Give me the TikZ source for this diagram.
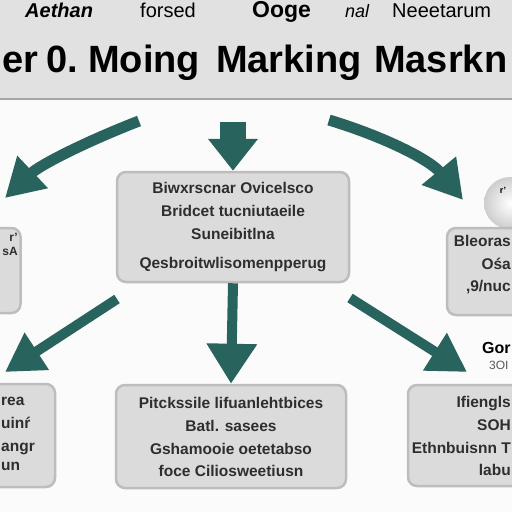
\documentclass[tikz,border=0pt]{standalone}
\usepackage{fontspec}
\setmainfont{Liberation Sans}
\usetikzlibrary{arrows.meta}
\definecolor{arrowteal}{HTML}{29635D}
\definecolor{boxfill}{HTML}{DBDBDB}
\definecolor{boxedge}{HTML}{BDBDBD}
\definecolor{bandfill}{HTML}{E1E1E1}
\definecolor{inkgray}{HTML}{2E2E2E}
\begin{document}
\begin{tikzpicture}[x=1pt,y=-1pt,
		box/.style={draw=boxedge, fill=boxfill, line width=2.5pt, rounded corners=9pt, text=inkgray, align=center, font=\bfseries\fontsize{15.5}{23}\selectfont},
		boxtxt/.style={inner sep=0, text=inkgray, font=\bfseries\fontsize{15.5}{23}\selectfont},
		flow/.style={arrowteal, line width=11pt, -{Triangle[length=38pt,width=42pt]}},
		head/.style={anchor=base west, inner sep=0, font=\fontsize{20}{20}\selectfont},
		big/.style={anchor=base west, inner sep=0, font=\bfseries\fontsize{38}{38}\selectfont}]
	\clip (0,0) rectangle (512,512);
	\fill[white!97!gray] (0,0) rectangle (512,512);
	% header band
	\fill[bandfill] (0,0) rectangle (512,99);
	\draw[gray!70, line width=1.5pt] (0,99) -- (512,99);
	\node[head, font=\bfseries\itshape\fontsize{20}{20}\selectfont] (top1) at (25,17) {Aethan};
	\node[head] (top2) at (140,17) {forsed};
	\node[head, font=\bfseries\fontsize{23}{23}\selectfont] (top3) at (252,17) {Ooge};
	\node[head, font=\itshape\fontsize{18}{18}\selectfont] (top4) at (345,17) {nal};
	\node[head] (top5) at (392,17) {Neeetarum};
	\node[big] (title1) at (2,72) {er\hspace{8pt}0.};
	\node[big] (title2) at (88,72) {Moing};
	\node[big] (title3) at (216,72) {Marking};
	\node[big] (title4) at (374,72) {Masrkn};
	% boxes
	\node[box, minimum width=232pt, minimum height=110pt] (mid) at (233,227) {Biwxrscnar Ovicelsco\\ Bridcet tucniutaeile\\ Suneibitlna\\[6pt] Qesbroitwlisomenpperug};
	\node[box, minimum width=51pt, minimum height=85pt] (leftbox) at (-5,270.5) {};
	\node[boxtxt, anchor=east, align=right, font=\bfseries\fontsize{12}{14}\selectfont] (lefttxt) at (18,244) {r'\\ sA};
	\node[circle, minimum size=52pt, inner color=white, outer color=boxfill!85!gray] (ball) at (510,203) {};
	\node[font=\bfseries\fontsize{9}{9}\selectfont] (mark) at (503,190) {r'};
	\node[box, minimum width=116pt, minimum height=87pt] (rightbox) at (505,271.5) {};
	\node[boxtxt, anchor=east, align=right, font=\bfseries\fontsize{15.5}{22.5}\selectfont] (righttxt) at (511,265) {Bleoras\\ Ośa\\ ,9/nuc};
	\node[box, minimum width=106pt, minimum height=103pt] (botleft) at (2,435.5) {};
	\node[boxtxt, anchor=west, align=left] (botlefttxt) at (1,434) {rea\\ uinŕ\\ angr\\[-4pt] un};
	\node[box, minimum width=230pt, minimum height=103pt] (botmid) at (231,436.5) {Pitckssile lifuanlehtbices\\ Batl. sasees\\ Gshamooie oetetabso\\[-1pt] foce Ciliosweetiusn};
	\node[box, minimum width=184pt, minimum height=101pt] (botright) at (500,435.5) {};
	\node[boxtxt, anchor=east, align=right] (botrighttxt) at (511,436) {Ifiengls\\ SOH\\ Ethnbuisnn T\\[-1pt] labu};
	\node[anchor=west, inner sep=0, font=\bfseries\fontsize{16}{16}\selectfont] (tag) at (482,348) {Gor};
	\node[anchor=west, inner sep=0, text=gray!70!black, font=\fontsize{12}{12}\selectfont] (subtag) at (489,365) {3OI};
	% arrows
	\coordinate (s1) at (139,121);
	\coordinate (t1) at (5,198);
	\coordinate (s2) at (233,122);
	\coordinate (s3) at (329,120);
	\coordinate (t3) at (463,200);
	\coordinate (s4) at (117,299);
	\coordinate (t4) at (5,372);
	\coordinate (s6) at (350,298);
	\coordinate (t6) at (467,372);
	\draw[flow] (s1) .. controls (85,142) and (40,165) .. (t1);
	\draw[flow, line width=26pt, -{Triangle[length=32pt,width=48pt]}] (s2) -- (mid.north);
	\draw[flow] (s3) .. controls (385,137) and (430,160) .. (t3);
	\draw[flow, line width=10pt] (s4) -- (t4);
	\draw[flow, line width=10pt, -{Triangle[length=40pt,width=48pt]}] (mid.south) -- (botmid.north);
	\draw[flow, line width=10pt] (s6) -- (t6);
\end{tikzpicture}
\end{document}
